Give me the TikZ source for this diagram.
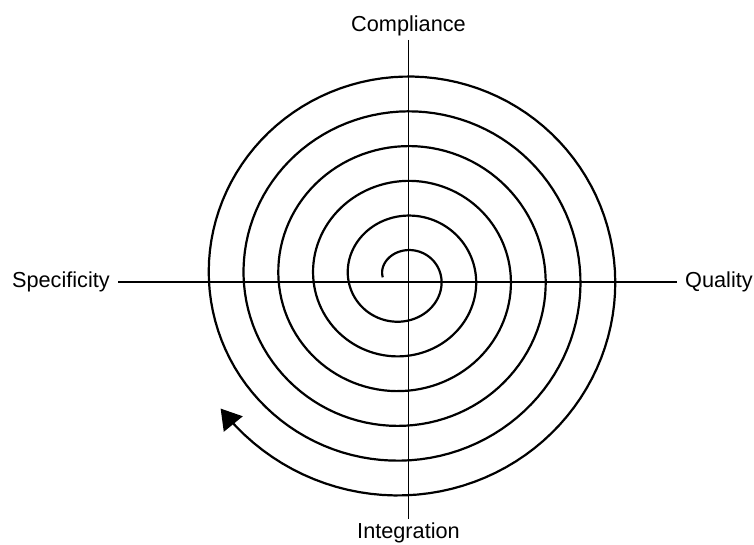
\documentclass[tikz,border=0pt]{standalone}
\usepackage{fontspec}
\setmainfont{Liberation Sans}
\usetikzlibrary{arrows.meta}

\tikzstyle{axislabel} = [font=\fontsize{21.7}{26}\selectfont, inner xsep=8pt, inner ysep=4pt]
\tikzstyle{axis} = [line width=1.8pt]

\begin{document}
\begin{tikzpicture}[x=1pt,y=1pt]
\useasboundingbox (0,0) rectangle (754,544);
\node[axislabel, anchor=east] (spec) at (118,262) {Specificity};
\node[axislabel, anchor=west] (qual) at (677,262) {Quality};
\node[axislabel, anchor=south] (compl) at (408.5,504) {Compliance};
\node[axislabel, anchor=north] (integ) at (408.5,25.5) {Integration};
\draw[axis] (spec) -- (qual);
\draw[axis] (compl) -- (integ);
% spiral, clockwise from the inner end
\draw[line width=2.2pt, -{Triangle[length=20pt,width=24pt]}]
  plot[domain=0:2124, samples=700, variable=\t]
  ({403.3+(20.5+0.09667*\t)*cos(180-\t)}, {266.7+(18+0.09667*\t)*sin(180-\t)});
\end{tikzpicture}
\end{document}
